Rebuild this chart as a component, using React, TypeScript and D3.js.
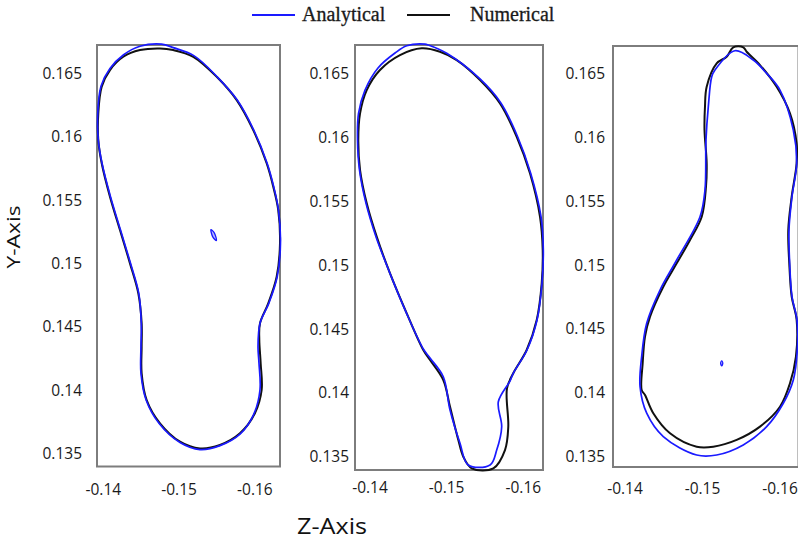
import React from 'react';
import * as d3 from 'd3';

const zTicks = [-0.14, -0.15, -0.16];
const zTickLabels = ['-0.14', '-0.15', '-0.16'];
const yTicks = [0.135, 0.14, 0.145, 0.15, 0.155, 0.16, 0.165];
const yTickLabels = ['0.135', '0.14', '0.145', '0.15', '0.155', '0.16', '0.165'];
const seriesNames = ['Analytical', 'Numerical'];
const seriesColors = ['#1a1aff', '#111111'];

type P = [number, number];

const p1Numerical: P[] = [
  [-0.14748, 0.16697], [-0.14484, 0.16684], [-0.14264, 0.16631], [-0.14088, 0.16526],
  [-0.13979, 0.16394], [-0.13934, 0.16184], [-0.13934, 0.15973], [-0.13979, 0.1579],
  [-0.14088, 0.15526], [-0.1422, 0.15263], [-0.14352, 0.15], [-0.14462, 0.14763],
  [-0.14506, 0.14526], [-0.14506, 0.14342], [-0.14506, 0.14132], [-0.14572, 0.13921],
  [-0.14748, 0.13737], [-0.15012, 0.13592], [-0.15275, 0.13539], [-0.15539, 0.13566],
  [-0.15803, 0.13658], [-0.16, 0.13816], [-0.16089, 0.14], [-0.16076, 0.14211],
  [-0.16058, 0.14394], [-0.16067, 0.14526], [-0.16176, 0.14684], [-0.16287, 0.14894],
  [-0.16331, 0.15158], [-0.16308, 0.15421], [-0.16242, 0.15605], [-0.16155, 0.1579],
  [-0.15978, 0.16052], [-0.1576, 0.16289], [-0.15496, 0.16473], [-0.15187, 0.16631],
  [-0.14923, 0.16684],
];
const p1Analytical: P[] = [
  [-0.1477, 0.16731], [-0.14484, 0.16714], [-0.14264, 0.16645], [-0.14088, 0.16538],
  [-0.1397, 0.16399], [-0.13927, 0.16184], [-0.13934, 0.15973], [-0.13983, 0.1579],
  [-0.14095, 0.15526], [-0.14227, 0.15263], [-0.14359, 0.15], [-0.14468, 0.14763],
  [-0.14501, 0.14526], [-0.14497, 0.14342], [-0.14497, 0.14132], [-0.14565, 0.13921],
  [-0.14735, 0.13737], [-0.15012, 0.13585], [-0.15275, 0.1353], [-0.15539, 0.13561],
  [-0.15803, 0.13652], [-0.1598, 0.13802], [-0.16067, 0.14], [-0.16054, 0.14211],
  [-0.16041, 0.14342], [-0.16067, 0.14526], [-0.16183, 0.14684], [-0.16294, 0.14894],
  [-0.16337, 0.15158], [-0.16311, 0.15421], [-0.16248, 0.15605], [-0.16161, 0.1579],
  [-0.15985, 0.16052], [-0.15767, 0.16289], [-0.15502, 0.16473], [-0.15194, 0.1664],
  [-0.14923, 0.16703],
];
const p1AnalyticalSpot: P[] = [
  [-0.1542, 0.15267], [-0.15466, 0.15239], [-0.15492, 0.1518], [-0.15446, 0.15207],
];

const p2Numerical: P[] = [
  [-0.14674, 0.16696], [-0.14913, 0.16669], [-0.15131, 0.16604], [-0.15435, 0.16448],
  [-0.15696, 0.16265], [-0.15914, 0.16004], [-0.16087, 0.15718], [-0.16218, 0.15378],
  [-0.16253, 0.15117], [-0.1624, 0.14857], [-0.16175, 0.1457], [-0.16044, 0.14335],
  [-0.15869, 0.14153], [-0.15787, 0.14035], [-0.15804, 0.13735], [-0.15761, 0.13552],
  [-0.15609, 0.13409], [-0.15327, 0.13409], [-0.15217, 0.135], [-0.15152, 0.13631],
  [-0.15044, 0.13891], [-0.14956, 0.141], [-0.14783, 0.14257], [-0.14695, 0.14335],
  [-0.14479, 0.14622], [-0.14261, 0.14935], [-0.14087, 0.15222], [-0.13957, 0.15483],
  [-0.1387, 0.15743], [-0.13847, 0.15978], [-0.1387, 0.16187], [-0.13957, 0.16369],
  [-0.1413, 0.16526], [-0.14391, 0.16643],
];
const p2Analytical: P[] = [
  [-0.14718, 0.16729], [-0.14761, 0.16722], [-0.15001, 0.16657], [-0.15435, 0.16456],
  [-0.15703, 0.16272], [-0.15922, 0.1601], [-0.16096, 0.15718], [-0.16231, 0.15378],
  [-0.16261, 0.15117], [-0.16244, 0.14857], [-0.16179, 0.1457], [-0.16048, 0.14335],
  [-0.15869, 0.14153], [-0.15826, 0.14092], [-0.15674, 0.1393], [-0.15718, 0.13735],
  [-0.15653, 0.13552], [-0.15566, 0.13435], [-0.15282, 0.13435], [-0.15174, 0.13605],
  [-0.15044, 0.13865], [-0.14956, 0.14126], [-0.14783, 0.14272], [-0.14695, 0.14343],
  [-0.1447, 0.14632], [-0.14254, 0.14945], [-0.14078, 0.15222], [-0.13948, 0.15483],
  [-0.13863, 0.15743], [-0.13837, 0.15978], [-0.1385, 0.16187], [-0.13935, 0.16369],
  [-0.14104, 0.16542], [-0.14326, 0.16659], [-0.14479, 0.16716],
];

const p3Numerical: P[] = [
  [-0.15397, 0.16704], [-0.15526, 0.16704], [-0.1557, 0.16669], [-0.15742, 0.16565],
  [-0.15957, 0.16395], [-0.16129, 0.16187], [-0.16215, 0.15952], [-0.16215, 0.15796],
  [-0.16151, 0.15535], [-0.16107, 0.15274], [-0.1612, 0.15013], [-0.16151, 0.14752],
  [-0.16215, 0.1457], [-0.16206, 0.14283], [-0.16129, 0.14074], [-0.16, 0.13891],
  [-0.15742, 0.13735], [-0.15441, 0.13631], [-0.15139, 0.13578], [-0.14925, 0.13578],
  [-0.14581, 0.13683], [-0.14365, 0.1384], [-0.14258, 0.13983], [-0.14215, 0.14022],
  [-0.14228, 0.14231], [-0.14258, 0.14439], [-0.14323, 0.14596], [-0.14494, 0.1483],
  [-0.14667, 0.15013], [-0.14839, 0.15196], [-0.1499, 0.15378], [-0.15045, 0.15613],
  [-0.15054, 0.15796], [-0.15026, 0.16056], [-0.15032, 0.16239], [-0.15054, 0.16395],
  [-0.15183, 0.16578], [-0.15312, 0.1663],
];
const p3Analytical: P[] = [
  [-0.15419, 0.16677], [-0.15655, 0.16604], [-0.15828, 0.165], [-0.16, 0.16369],
  [-0.16172, 0.16056], [-0.16215, 0.15796], [-0.16155, 0.15535], [-0.16116, 0.15274],
  [-0.16125, 0.15013], [-0.16155, 0.14752], [-0.16219, 0.1457], [-0.16223, 0.14335],
  [-0.16172, 0.141], [-0.16043, 0.13918], [-0.15828, 0.13735], [-0.15526, 0.13592],
  [-0.15183, 0.13513], [-0.14925, 0.13513], [-0.14494, 0.13657], [-0.1428, 0.1384],
  [-0.14194, 0.14048], [-0.14215, 0.14283], [-0.1428, 0.14544], [-0.14452, 0.14804],
  [-0.14667, 0.15039], [-0.14968, 0.15378], [-0.15032, 0.15587], [-0.15045, 0.15978],
  [-0.15075, 0.16239], [-0.15119, 0.16474], [-0.15161, 0.16526],
];
const p3AnalyticalSpot: P[] = [
  [-0.15248, 0.14249], [-0.15262, 0.14231], [-0.15248, 0.1421], [-0.15234, 0.14231],
];

const panels = [
  {
    analytical: p1Analytical, numerical: p1Numerical, spot: p1AnalyticalSpot,
    zDomain: [-0.13917, -0.16331], yDomain: [0.13396, 0.16724],
    box: { l: 97, r: 280, t: 45, b: 466.5 }, yLabelGap: 15, xLabelY: 489,
  },
  {
    analytical: p2Analytical, numerical: p2Numerical, spot: null,
    zDomain: [-0.13804, -0.16257], yDomain: [0.13396, 0.16722],
    box: { l: 355, r: 543, t: 45, b: 470 }, yLabelGap: 6, xLabelY: 487,
  },
  {
    analytical: p3Analytical, numerical: p3Numerical, spot: p3AnalyticalSpot,
    zDomain: [-0.13845, -0.16239], yDomain: [0.13419, 0.16714],
    box: { l: 613, r: 798.5, t: 46, b: 467 }, yLabelGap: 8, xLabelY: 488,
  },
];

const tickFont = "'Open Sans', 'Noto Sans', sans-serif";

function Panel({ cfg }: { cfg: typeof panels[number] }) {
  const { box } = cfg;
  const x = d3.scaleLinear().domain(cfg.zDomain).range([box.l, box.r]);
  const y = d3.scaleLinear().domain(cfg.yDomain).range([box.b, box.t]);
  const line = d3
    .line<P>()
    .x((d) => x(d[0]))
    .y((d) => y(d[1]))
    .curve(d3.curveCatmullRomClosed.alpha(0.5));
  return (
    <g>
      <rect x={box.l} y={box.t} width={box.r - box.l} height={box.b - box.t}
        fill="none" stroke="#7d7d7d" strokeWidth={2} />
      <path d={line(cfg.numerical) || ''} fill="none" stroke={seriesColors[1]} strokeWidth={2} />
      <path d={line(cfg.analytical) || ''} fill="none" stroke={seriesColors[0]} strokeWidth={1.7} />
      {cfg.spot && (
        <path d={line(cfg.spot) || ''} fill={seriesColors[0]} fillOpacity={0.3} stroke={seriesColors[0]} strokeWidth={1.3} />
      )}
      {yTicks.map((t, i) => (
        <text key={'y' + i} x={box.l - cfg.yLabelGap} y={y(t)} dy="0.36em" textAnchor="end"
          fontFamily={tickFont} fontSize={15.5} fill="#1a1a1a">{yTickLabels[i]}</text>
      ))}
      {zTicks.map((t, i) => (
        <text key={'x' + i} x={x(t)} y={cfg.xLabelY} dy="0.36em" textAnchor="middle"
          fontFamily={tickFont} fontSize={15.5} fill="#1a1a1a">{zTickLabels[i]}</text>
      ))}
    </g>
  );
}

export default function App() {
  return (
    <svg width={798} height={545} style={{ position: 'absolute', left: 0, top: 0, background: '#fff' }}>
      <rect x={0} y={0} width={798} height={545} fill="#fff" />
      <g fontFamily="'Liberation Serif', 'Times New Roman', serif" fontSize={20} fill="#1a1a1a">
        <line x1={252} x2={295} y1={15} y2={15} stroke={seriesColors[0]} strokeWidth={2} />
        <text x={302} y={21} stroke="#1a1a1a" strokeWidth={0.3}>{seriesNames[0]}</text>
        <line x1={407} x2={450} y1={15} y2={15} stroke={seriesColors[1]} strokeWidth={2} />
        <text x={470} y={21} stroke="#1a1a1a" strokeWidth={0.3}>{seriesNames[1]}</text>
      </g>
      {panels.map((p, i) => (
        <Panel key={i} cfg={p} />
      ))}
      <text transform="translate(20,237) rotate(-90)" textAnchor="middle" fontFamily={tickFont}
        fontSize={19} textLength={63} lengthAdjust="spacingAndGlyphs" fill="#111">Y-Axis</text>
      <text x={332} y={534} textAnchor="middle" fontFamily={tickFont} fontSize={21}
        textLength={70} lengthAdjust="spacingAndGlyphs" fill="#111">Z-Axis</text>
    </svg>
  );
}
